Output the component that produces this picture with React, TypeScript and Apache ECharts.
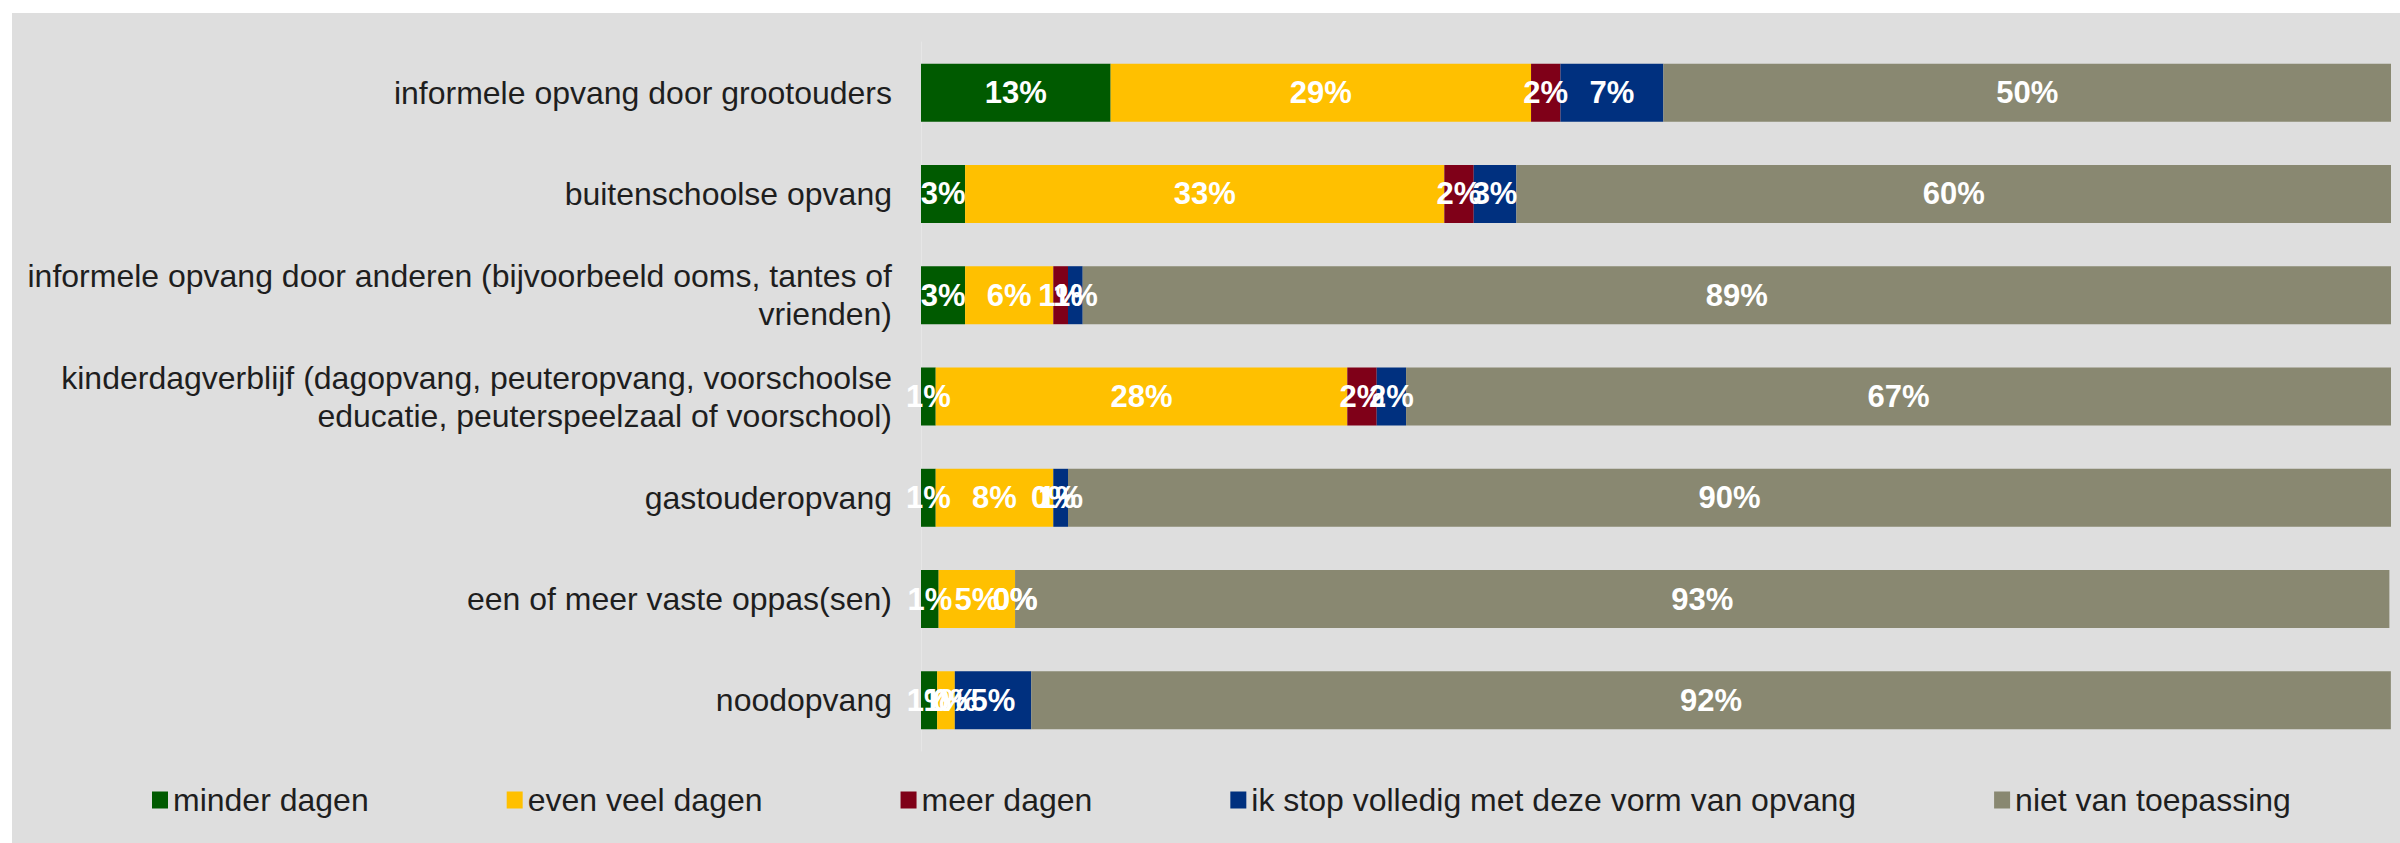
import React, { useEffect, useRef } from "react";
import * as echarts from "echarts";

const categories = [
  "informele opvang door grootouders",
  "buitenschoolse opvang",
  "informele opvang door anderen (bijvoorbeeld ooms, tantes of\nvrienden)",
  "kinderdagverblijf (dagopvang, peuteropvang, voorschoolse\neducatie, peuterspeelzaal of voorschool)",
  "gastouderopvang",
  "een of meer vaste oppas(sen)",
  "noodopvang",
];

const seriesNames = [
  "minder dagen",
  "even veel dagen",
  "meer dagen",
  "ik stop volledig met deze vorm van opvang",
  "niet van toepassing",
];

const minderDagen = [12.9, 3.0, 3.0, 1.0, 1.0, 1.2, 1.1];
const evenVeelDagen = [28.6, 32.6, 6.0, 28.0, 8.0, 5.2, 1.2];
const meerDagen = [2.0, 2.0, 1.0, 2.0, 0.0, 0.0, 0.0];
const ikStop = [7.0, 2.9, 1.0, 2.0, 1.0, 0.0, 5.2];
const nietVanToepassing = [49.5, 59.5, 89.0, 67.0, 90.0, 93.49, 92.49];

const seriesData = [minderDagen, evenVeelDagen, meerDagen, ikStop, nietVanToepassing];
const colors = ["#005a00", "#ffc000", "#7f0018", "#00307f", "#898871"];

const FONT = "Arial, 'Liberation Sans', sans-serif";

export default function App() {
  const ref = useRef<HTMLDivElement>(null);

  useEffect(() => {
    if (!ref.current) return;
    const chart = echarts.init(ref.current, undefined, { renderer: "svg" });
    chart.setOption({
      animation: false,
      backgroundColor: "#dedede",
      color: colors,
      textStyle: { fontFamily: FONT },
      grid: { left: 909, right: 9, top: 29, bottom: 92, containLabel: false },
      legend: {
        left: 135,
        top: 764,
        icon: "rect",
        itemWidth: 16,
        itemHeight: 17,
        itemGap: 138,
        textStyle: {
          fontSize: 32,
          color: "#1e1e1e",
          fontFamily: FONT,
          lineHeight: 36,
        },
        data: seriesNames,
      },
      xAxis: {
        type: "value",
        min: 0,
        max: 100,
        show: false,
        splitLine: { show: false },
      },
      yAxis: {
        type: "category",
        inverse: true,
        data: categories,
        axisTick: { show: false },
        axisLine: { show: true, lineStyle: { color: "#e6e6e6", width: 1 } },
        axisLabel: {
          fontSize: 32,
          color: "#1e1e1e",
          fontFamily: FONT,
          margin: 29,
          align: "right",
          lineHeight: 38,
        },
      },
      series: seriesNames.map((name, i) => ({
        name,
        type: "bar",
        stack: "total",
        barWidth: 58,
        data: seriesData[i],
        itemStyle: { color: colors[i] },
        label: {
          show: true,
          position: "inside",
          color: "#ffffff",
          fontWeight: "bold",
          fontSize: 31,
          fontFamily: FONT,
          formatter: (p: any) => Math.round(p.value) + "%",
        },
      })),
    });
    return () => chart.dispose();
  }, []);

  return (
    <div
      ref={ref}
      style={{ position: "absolute", left: 12, top: 13, width: 2388, height: 830 }}
    />
  );
}
